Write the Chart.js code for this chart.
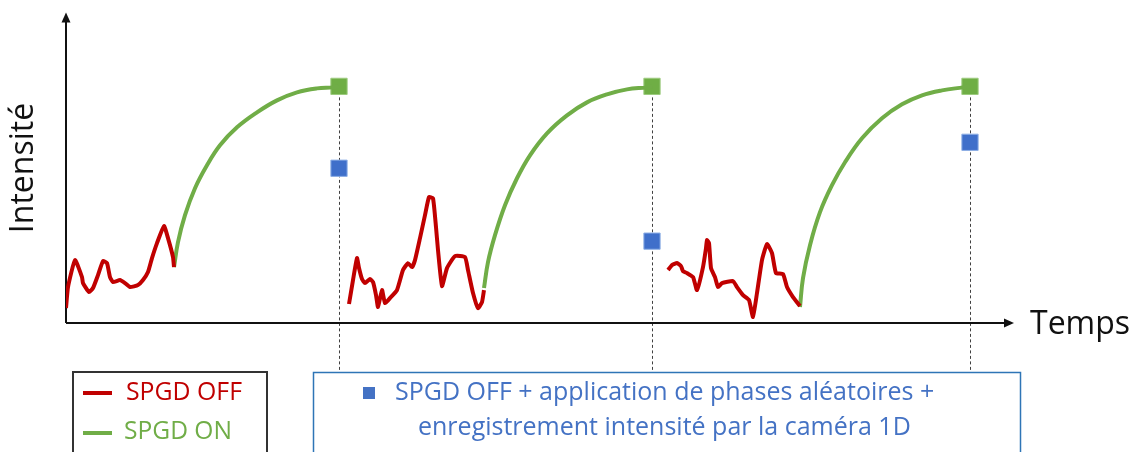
<!DOCTYPE html>
<html>
<head>
<meta charset="utf-8">
<title>SPGD</title>
<script src="https://cdn.jsdelivr.net/npm/chart.js@4.4.1/dist/chart.umd.min.js"></script>
<style>
  html, body { margin: 0; padding: 0; background: #fff; }
  #wrap { width: 1137px; height: 452px; }
</style>
</head>
<body>
<div id="wrap"><canvas id="spgdChart" width="1137" height="452"></canvas></div>
<script>
// SPGD OFF phases (noisy intensity), time / intensity
const off1T = [0, 2, 9, 16, 17, 23, 27, 32, 37, 41, 44, 47, 54, 59, 64, 72, 77, 82, 86, 91, 98, 102, 107, 108];
const off1I = [15, 36, 63, 46, 40, 31, 35, 48, 62, 60, 46, 41, 43, 40, 36, 38, 43, 51, 65, 80, 97, 85, 66, 56];
const off2T = [283, 287, 291, 293, 296, 299, 304, 307, 310, 312, 316, 319, 324, 331, 337, 342, 346, 349, 354, 359, 363, 367, 370, 372, 376, 381, 389, 399, 402, 407, 412, 416, 418];
const off2I = [19, 43, 65, 55, 44, 40, 44, 41, 28, 16, 33, 20, 25, 33, 53, 60, 56, 63, 85, 108, 126, 125, 96, 73, 37, 55, 67, 66, 53, 30, 15, 21, 33];
const off3T = [602, 606, 611, 615, 617, 621, 627, 631, 637, 640, 641, 643, 645, 649, 652, 656, 667, 671, 677, 683, 687, 691, 696, 701, 706, 710, 717, 721, 727, 734];
const off3I = [53, 58, 60, 57, 52, 50, 46, 33, 56, 75, 83, 80, 55, 46, 36, 40, 42, 36, 28, 23, 6, 30, 63, 79, 70, 50, 49, 36, 26, 17];

// SPGD ON phases (convergence)
const on1T = [108, 112, 119, 129, 141, 154, 171, 191, 211, 231, 251, 267, 273];
const on1I = [56, 81, 108, 135, 158, 178, 196, 211, 223, 231, 235, 236, 237];
const on2T = [418, 422, 429, 439, 451, 464, 481, 501, 521, 541, 561, 581, 586];
const on2I = [35, 61, 88, 118, 145, 168, 190, 208, 221, 229, 234, 236, 237];
const on3T = [734, 737, 744, 754, 766, 779, 796, 816, 836, 856, 876, 897, 904];
const on3I = [16, 45, 78, 111, 138, 161, 185, 205, 219, 228, 233, 236, 237];

// end of each convergence, and the random-phase measurement taken there
const markT = [273, 586, 904];
const convergedI = [237, 237, 237];
const randomI = [155, 82, 181];

const RED = '#C00000';
const GREEN = '#70AD47';
const BLUE = '#4472C4';

const pts = (t, v) => t.map((x, i) => ({ x: x, y: v[i] }));

const offLine = (t, v) => ({
    data: pts(t, v),
    borderColor: RED,
    borderWidth: 4,
    pointRadius: 0,
    tension: 0.15,
    borderJoinStyle: 'round'
});
const onLine = (t, v) => ({
    data: pts(t, v),
    borderColor: GREEN,
    borderWidth: 4,
    pointRadius: 0,
    tension: 0.4
});

function arrow(ctx, x, y, dir) {
    ctx.beginPath();
    if (dir === 'up') {
        ctx.moveTo(x, y);
        ctx.lineTo(x - 4.5, y + 10);
        ctx.lineTo(x + 4.5, y + 10);
    } else {
        ctx.moveTo(x, y);
        ctx.lineTo(x - 10, y - 4.5);
        ctx.lineTo(x - 10, y + 4.5);
    }
    ctx.closePath();
    ctx.fill();
}

// axes, dashed markers and the two legend boxes
const decor = {
    id: 'decor',
    beforeDatasetsDraw(chart) {
        const ctx = chart.ctx;
        const xs = chart.scales.x;
        const ys = chart.scales.y;
        ctx.save();
        ctx.strokeStyle = '#404040';
        ctx.lineWidth = 1;
        ctx.setLineDash([3, 2.5]);
        markT.forEach((t, i) => {
            const px = Math.round(xs.getPixelForValue(t)) + 0.5;
            ctx.beginPath();
            ctx.moveTo(px, ys.getPixelForValue(convergedI[i]));
            ctx.lineTo(px, 372);
            ctx.stroke();
        });
        ctx.setLineDash([]);

        const a = chart.chartArea;
        ctx.strokeStyle = '#111';
        ctx.fillStyle = '#111';
        ctx.lineWidth = 2;
        ctx.beginPath();
        ctx.moveTo(a.left, a.bottom);
        ctx.lineTo(a.left, a.top + 6);
        ctx.moveTo(a.left, a.bottom);
        ctx.lineTo(a.right - 6, a.bottom);
        ctx.stroke();
        arrow(ctx, a.left, a.top, 'up');
        arrow(ctx, a.right, a.bottom, 'right');

        ctx.font = '32px "Open Sans"';
        ctx.textBaseline = 'middle';
        ctx.textAlign = 'left';
        ctx.fillText('Temps', 1030, 325);
        ctx.save();
        ctx.translate(24, 168);
        ctx.rotate(-Math.PI / 2);
        ctx.textAlign = 'center';
        ctx.fillText('Intensité', 0, 0);
        ctx.restore();
        ctx.restore();
    },
    afterDraw(chart) {
        const ctx = chart.ctx;
        ctx.save();
        ctx.fillStyle = '#fff';
        ctx.fillRect(73, 373, 194, 80);
        ctx.strokeStyle = '#333';
        ctx.lineWidth = 2;
        ctx.strokeRect(73, 372, 194, 90);

        ctx.lineWidth = 4;
        ctx.strokeStyle = RED;
        ctx.beginPath(); ctx.moveTo(83, 393); ctx.lineTo(112, 393); ctx.stroke();
        ctx.strokeStyle = GREEN;
        ctx.beginPath(); ctx.moveTo(83, 433); ctx.lineTo(112, 433); ctx.stroke();

        ctx.font = '25px "Open Sans"';
        ctx.textBaseline = 'middle';
        ctx.textAlign = 'left';
        ctx.fillStyle = RED;
        ctx.fillText('SPGD OFF', 126, 393, 116);
        ctx.fillStyle = GREEN;
        ctx.fillText('SPGD ON', 124, 432, 108);

        ctx.fillStyle = '#fff';
        ctx.fillRect(314, 373, 706, 80);
        ctx.strokeStyle = '#2E75B6';
        ctx.lineWidth = 1.5;
        ctx.strokeRect(313.5, 372.5, 707, 90);

        ctx.fillStyle = BLUE;
        ctx.fillRect(363, 387, 12, 12);
        ctx.fillText('SPGD OFF + application de phases aléatoires +', 395, 393, 546);
        ctx.fillText('enregistrement intensité par la caméra 1D', 418, 428, 500);
        ctx.restore();
    }
};

new Chart(document.getElementById('spgdChart'), {
    type: 'line',
    data: {
        datasets: [
            offLine(off1T, off1I),
            offLine(off2T, off2I),
            offLine(off3T, off3I),
            onLine(on1T, on1I),
            onLine(on2T, on2I),
            onLine(on3T, on3I),
            {
                data: pts(markT, convergedI),
                showLine: false,
                pointStyle: 'rect',
                pointRadius: 11.5,
                pointBackgroundColor: '#6FAE45',
                pointBorderColor: '#9CCB7E',
                pointBorderWidth: 1
            },
            {
                data: pts(markT, randomI),
                showLine: false,
                pointStyle: 'rect',
                pointRadius: 11.5,
                pointBackgroundColor: '#3F6FCA',
                pointBorderColor: '#8FB0E6',
                pointBorderWidth: 1
            }
        ]
    },
    options: {
        responsive: false,
        animation: false,
        layout: { padding: { left: 66, top: 12, right: 123, bottom: 129 } },
        scales: {
            x: { type: 'linear', min: 0, max: 948, display: false },
            y: { min: 0, max: 311, display: false }
        },
        plugins: {
            legend: { display: false },
            tooltip: { enabled: false }
        }
    },
    plugins: [decor]
});
</script>
</body>
</html>
